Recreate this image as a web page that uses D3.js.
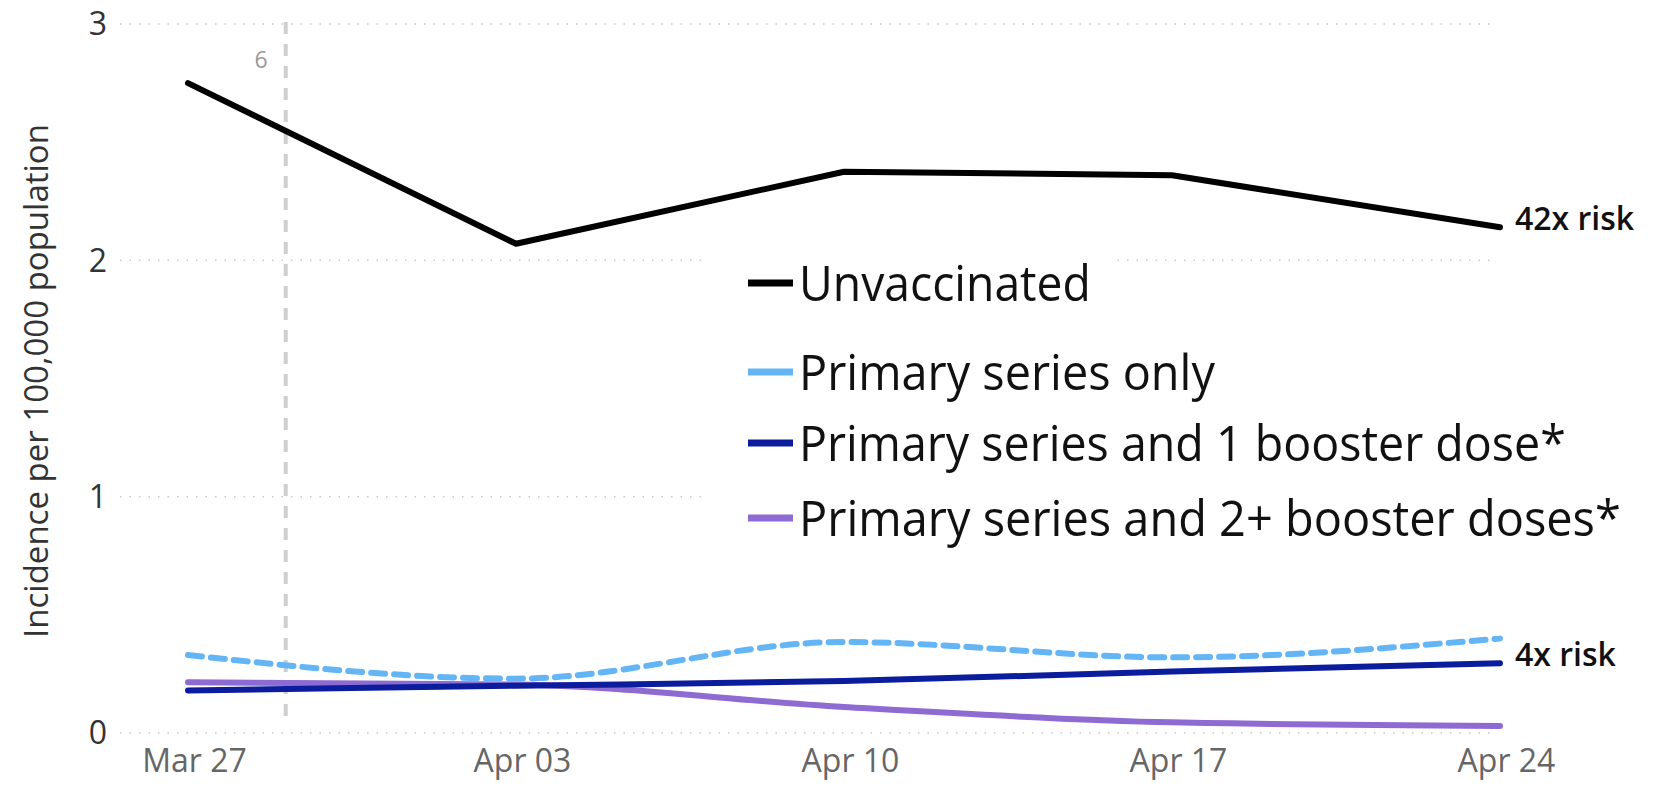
<!DOCTYPE html>
<html>
<head>
<meta charset="utf-8">
<script src="https://cdn.jsdelivr.net/npm/d3@7"></script>
<style>
  html, body { margin: 0; padding: 0; background: #fff; }
  svg { display: block; font-family: "Open Sans", "Noto Sans", sans-serif; }
</style>
</head>
<body>
<div class="svg-container"></div>
<script>
// data
const dates = ["2022-03-27", "2022-04-03", "2022-04-10", "2022-04-17", "2022-04-24"];
const unvaccinated = [2.75, 2.07, 2.375, 2.36, 2.14];
const primaryOnly = [0.33, 0.23, 0.385, 0.32, 0.40];
const oneBooster = [0.18, 0.20, 0.22, 0.26, 0.295];
const twoBooster = [0.215, 0.205, 0.11, 0.045, 0.03];
const yTicks = [0, 1, 2, 3];
const seriesNames = ["Unvaccinated", "Primary series only", "Primary series and 1 booster dose*", "Primary series and 2+ booster doses*"];
const markerDate = "2022-03-29";
const markerLabel = "6";
const riskLabels = ["42x risk", "4x risk"];

const width = 1659, height = 786;
const parse = d3.timeParse("%Y-%m-%d");
const colors = ["#000000", "#64b5f6", "#0b1c9c", "#8e6bd2"];

const svg = d3.select('.svg-container')
    .append('svg')
    .attr('width', width)
    .attr('height', height);

var xScale = d3.scaleTime()
        .domain([parse(dates[0]), parse(dates[dates.length - 1])])
        .range([188, 1500]),
    yScale = d3.scaleLinear().domain([0, 3]).range([733, 24]);

// squeeze a text horizontally to a given width, anchored at (x, y)
function squeeze(text, x, y, w) {
    text.attr("x", 0).attr("y", 0);
    const natural = text.node().getComputedTextLength();
    const k = Math.min(1, w / natural);
    text.attr("transform", "translate(" + x + "," + y + ") scale(" + k + ",1)");
}

// gridlines
svg.append("g").selectAll("line")
    .data(yTicks).enter().append("line")
    .attr("x1", 120).attr("x2", 1492)
    .attr("y1", d => yScale(d)).attr("y2", d => yScale(d))
    .attr("stroke", "#c8c8c8")
    .attr("stroke-width", 1.5)
    .attr("stroke-dasharray", "1.5,8");

// y tick labels
svg.append("g").selectAll("text")
    .data(yTicks).enter().append("text")
    .attr("x", 107)
    .attr("y", d => yScale(d))
    .attr("dy", "0.35em")
    .attr("text-anchor", "end")
    .attr("fill", "#333")
    .style("font-size", "32px")
    .text(d => d);

// x axis labels
const xAxis = svg.append("g")
    .attr("transform", "translate(6,746)")
    .call(d3.axisBottom(xScale).tickValues(dates.map(parse)).tickFormat(d3.timeFormat("%b %d")).tickSize(0));
xAxis.select(".domain").remove();
xAxis.selectAll("text")
    .attr("fill", "#666")
    .style("font-size", "32px")
    .style("font-family", "'Open Sans', sans-serif");

// y axis title
svg.append("text")
    .attr("transform", "translate(48,381) rotate(-90)")
    .attr("text-anchor", "middle")
    .attr("fill", "#333")
    .style("font-size", "33px")
    .text("Incidence per 100,000 population");

// vertical marker
svg.append("line")
    .attr("x1", xScale(parse(markerDate)) + 4).attr("x2", xScale(parse(markerDate)) + 4)
    .attr("y1", 22).attr("y2", 718)
    .attr("stroke", "#cfcfcf")
    .attr("stroke-width", 4)
    .attr("stroke-dasharray", "12,10");
svg.append("text")
    .attr("x", xScale(parse(markerDate)) - 14)
    .attr("y", 60)
    .attr("dy", "0.35em")
    .attr("text-anchor", "end")
    .attr("fill", "#999")
    .style("font-size", "23px")
    .text(markerLabel);

// lines
const series = [unvaccinated, primaryOnly, oneBooster, twoBooster];
const lineLinear = d3.line()
    .x((d, i) => xScale(parse(dates[i])))
    .y(d => yScale(d));
const lineSmooth = d3.line()
    .x((d, i) => xScale(parse(dates[i])))
    .y(d => yScale(d))
    .curve(d3.curveMonotoneX);

[3, 2, 1, 0].forEach(function (k) {
    svg.append("path")
        .datum(series[k])
        .attr("d", k === 0 ? lineLinear : lineSmooth)
        .attr("fill", "none")
        .attr("stroke", colors[k])
        .attr("stroke-width", 6)
        .attr("stroke-linecap", "round")
        .attr("stroke-linejoin", "round")
        .attr("stroke-dasharray", k === 1 ? "14,9" : null);
});

// risk labels
const risk1 = svg.append("text")
    .attr("dy", "0.35em")
    .attr("fill", "#111")
    .style("font-size", "32px")
    .style("font-weight", "600")
    .text(riskLabels[0]);
squeeze(risk1, 1515, yScale(unvaccinated[4]) - 8, 125);
const risk2 = svg.append("text")
    .attr("dy", "0.35em")
    .attr("fill", "#111")
    .style("font-size", "32px")
    .style("font-weight", "600")
    .text(riskLabels[1]);
squeeze(risk2, 1515, yScale(0.33), 106);

// legend
const legendY = [283, 372, 443, 518];
const legendW = [292, 416, 767, 822];
svg.append("rect").attr("x", 707).attr("y", 248).attr("width", 410).attr("height", 66).attr("fill", "#fff");
svg.append("rect").attr("x", 709).attr("y", 330).attr("width", 790).attr("height", 218).attr("fill", "#fff");

const legend = svg.append("g").selectAll("g")
    .data(seriesNames).enter().append("g");
legend.append("line")
    .attr("x1", 748).attr("x2", 793)
    .attr("y1", (d, i) => legendY[i]).attr("y2", (d, i) => legendY[i])
    .attr("stroke", (d, i) => colors[i])
    .attr("stroke-width", 7);
legend.append("text")
    .attr("dy", "0.35em")
    .attr("fill", "#111")
    .style("font-size", "50px")
    .text(d => d)
    .each(function (d, i) {
        squeeze(d3.select(this), 799, legendY[i], legendW[i]);
    });
</script>
</body>
</html>
